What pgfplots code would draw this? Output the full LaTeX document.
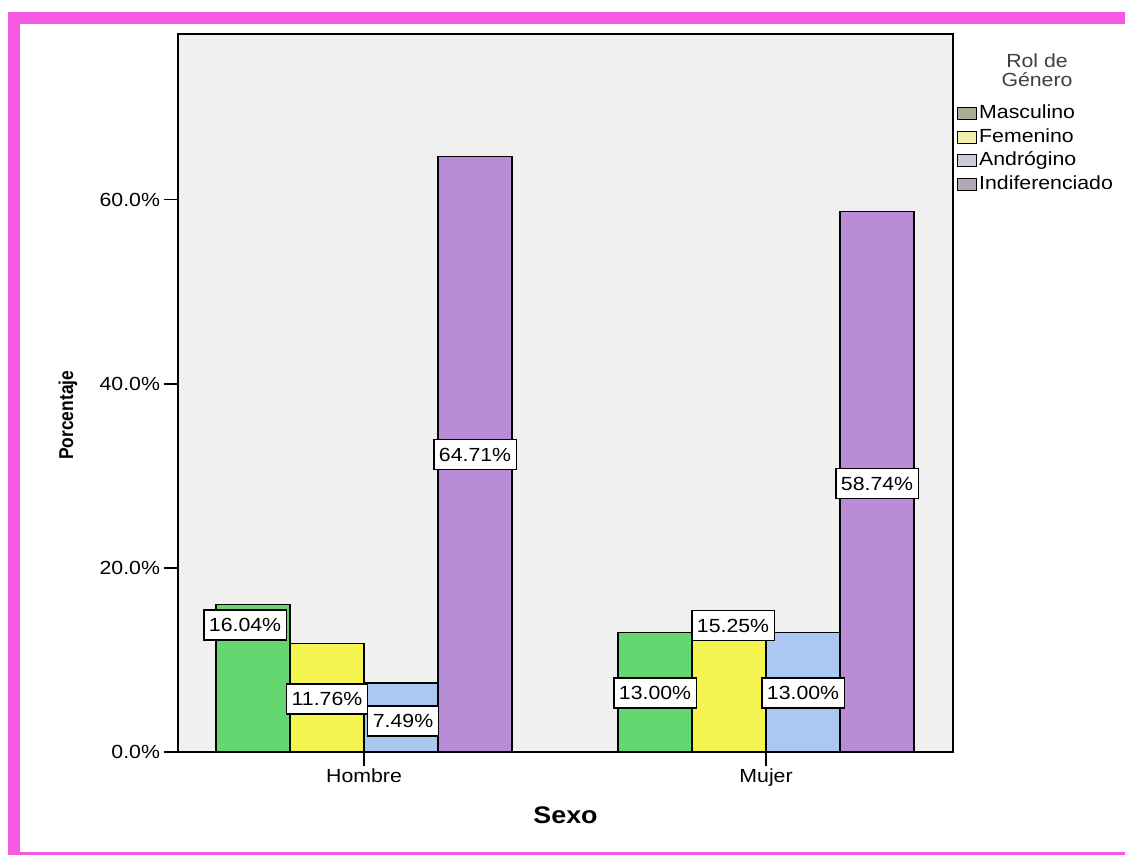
\documentclass[border=0pt]{standalone}
\usepackage{pgfplots}
\pgfplotsset{compat=1.18}
\usepackage{pgfplotstable}
\usepackage{fontspec}
\setmainfont{Liberation Sans}[FakeStretch=1.12]
\newfontfamily\plainsans{Liberation Sans}

% bar fills
\definecolor{cMasc}{RGB}{100,215,112}
\definecolor{cFem}{RGB}{245,245,82}
\definecolor{cAndr}{RGB}{170,200,240}
\definecolor{cIndif}{RGB}{185,140,215}
% legend swatches
\definecolor{lMasc}{RGB}{168,174,145}
\definecolor{lFem}{RGB}{240,240,170}
\definecolor{lAndr}{RGB}{200,204,215}
\definecolor{lIndif}{RGB}{176,168,182}
\definecolor{frame}{RGB}{246,90,226}
\definecolor{plotbg}{RGB}{240,240,240}

% x: 0 = Hombre, 1 = Mujer; y = percentage; ly = label height; dx = label nudge (pt)
\pgfplotstableread{
x y ly dx
0 16.04 13.8 -4
1 13.00 6.41 0
}\masc
\pgfplotstableread{
x y ly dx
0 11.76 5.76 0
1 15.25 13.7 2
}\fem
\pgfplotstableread{
x y ly dx
0 7.49 3.37 1
1 13.00 6.41 0
}\andr
\pgfplotstableread{
x y ly dx
0 64.71 32.3 0
1 58.74 29.2 0
}\indif

\tikzset{
  labelbox/.style={fill=white, draw=black, line width=0.6pt,
    inner xsep=2.5pt, inner ysep=4pt, text height=7pt, text depth=0pt,
    font=\fontsize{9.5}{11}\selectfont, text=black},
}

% #1 = bar offset in axis units, #2 = same offset in pt (1 unit = 201pt)
\pgfplotsset{
  valuelabels/.style 2 args={ybar, bar width=0.1841, bar shift=#1, draw=none, fill=none,
    forget plot, point meta=\thisrow{y},
    visualization depends on={\thisrow{dx} \as \dx},
    nodes near coords={\pgfmathprintnumber[fixed,fixed zerofill,precision=2]{\pgfplotspointmeta}\%},
    nodes near coords align={anchor=center},
    every node near coord/.append style={labelbox, anchor=center, xshift=\dx pt + #2}},
}

\begin{document}
\begin{tikzpicture}
\fill[white] (-89pt,-52pt) rectangle (473.5pt,376pt);
\useasboundingbox (-89pt,-52pt) rectangle (473.5pt,376pt);
% pink frame
\fill[frame] (-85pt,364pt) rectangle (473.5pt,370pt);
\fill[frame] (-85pt,-51.5pt) rectangle (-79pt,370pt);
\fill[frame] (-85pt,-51.5pt) rectangle (473.5pt,-49.8pt);

\begin{axis}[
  at={(0,0)}, anchor=south west,
  scale only axis, width=387.5pt, height=359pt,
  xmin=-0.4627, xmax=1.465, ymin=0, ymax=78,
  axis background/.style={fill=plotbg},
  axis line style={line width=0.75pt},
  xtick={0,1}, xticklabels={Hombre,Mujer},
  ytick={0,20,40,60},
  yticklabel={\pgfmathprintnumber[fixed,fixed zerofill,precision=1]{\tick}\%},
  /pgf/number format/assume math mode=true,
  tick align=outside, xtick pos=bottom, ytick pos=left,
  major tick length=7pt,
  tick style={black, line width=0.75pt},
  ticklabel style={font=\fontsize{9.5}{11}\selectfont},
  yticklabel style={xshift=1.5pt},
  xticklabel style={anchor=base, yshift=-8.5pt},
  xlabel={Sexo}, ylabel={\scalebox{1}[1.15]{Porcentaje}},
  xlabel style={at={(axis description cs:0.5,-0.0877)}, anchor=center,
    font=\fontsize{12}{14}\selectfont\bfseries},
  ylabel style={at={(axis description cs:-0.1419,0.469)}, anchor=center,
    font=\plainsans\fontsize{8.7}{10}\selectfont\bfseries},
  legend style={at={(1,1)}, anchor=north west, xshift=2pt, yshift=-34pt,
    draw=none, fill=none, inner sep=0pt, row sep=0.8pt,
    font=\fontsize{9.5}{11}\selectfont,
    nodes={inner sep=1pt, text height=7pt, text depth=2pt}},
  legend cell align=left,
]
\addplot[ybar, bar width=0.1841, bar shift=-0.2761, draw=black, line width=0.6pt, fill=cMasc,
  legend image code/.code={\draw[black, line width=0.4pt, fill=lMasc] (0pt,-3pt) rectangle (9.5pt,3pt);}]
  table[x=x, y=y] {\masc};
\addlegendentry{Masculino}
\addplot[ybar, bar width=0.1841, bar shift=-0.0920, draw=black, line width=0.6pt, fill=cFem,
  legend image code/.code={\draw[black, line width=0.4pt, fill=lFem] (0pt,-3pt) rectangle (9.5pt,3pt);}]
  table[x=x, y=y] {\fem};
\addlegendentry{Femenino}
\addplot[ybar, bar width=0.1841, bar shift=0.0920, draw=black, line width=0.6pt, fill=cAndr,
  legend image code/.code={\draw[black, line width=0.4pt, fill=lAndr] (0pt,-3pt) rectangle (9.5pt,3pt);}]
  table[x=x, y=y] {\andr};
\addlegendentry{Andrógino}
\addplot[ybar, bar width=0.1841, bar shift=0.2761, draw=black, line width=0.6pt, fill=cIndif,
  legend image code/.code={\draw[black, line width=0.4pt, fill=lIndif] (0pt,-3pt) rectangle (9.5pt,3pt);}]
  table[x=x, y=y] {\indif};
\addlegendentry{Indiferenciado}

% value labels
\addplot[valuelabels={-0.2761}{-55.5pt}] table[x=x, y=ly] {\masc};
\addplot[valuelabels={-0.0920}{-18.5pt}] table[x=x, y=ly] {\fem};
\addplot[valuelabels={0.0920}{18.5pt}] table[x=x, y=ly] {\andr};
\addplot[valuelabels={0.2761}{55.5pt}] table[x=x, y=ly] {\indif};
\end{axis}

% legend title
\node[align=center, font=\fontsize{9.5}{9.5}\selectfont, text=black!75] at (429.5pt,340.75pt) {Rol de\\Género};
\end{tikzpicture}
\end{document}
